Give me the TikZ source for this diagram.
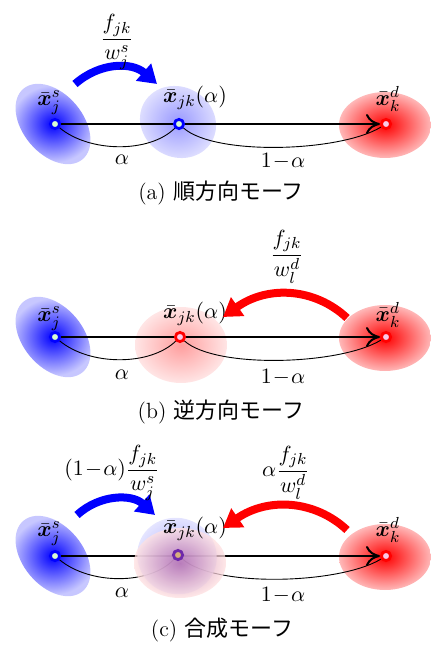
\documentclass[tikz,border=0pt]{standalone}
\usepackage{amsmath,amssymb,bm}
\usepackage{fontspec}
\newfontfamily\jpfont{Noto Sans CJK JP}
\usetikzlibrary{arrows.meta}
\definecolor{ptgreen}{RGB}{215,250,210}
\definecolor{ptpink}{RGB}{250,200,230}
\definecolor{pttan}{RGB}{215,175,125}
\definecolor{ptviolet}{RGB}{110,40,170}
\definecolor{mixcore}{RGB}{185,105,165}
\pgfdeclarelayer{background}
\pgfdeclarelayer{veil}
\pgfsetlayers{background,veil,main}
\tikzset{
    point/.style={circle, draw, line width=1.4pt, inner sep=0pt, minimum size=4.6pt},
    srcpt/.style={point, draw=blue, fill=ptgreen},
    dstpt/.style={point, draw=red, fill=ptpink},
    mixpt/.style={point, draw=ptviolet, fill=pttan},
    lab/.style={inner sep=1pt},
    mainline/.style={line width=1pt, -{To[length=7pt,width=10pt]}},
    ratio/.style={line width=0.45pt},
    bluearrow/.style={line width=4pt, blue, -{Triangle[length=9pt,width=11pt]}},
    redarrow/.style={line width=4pt, red, -{Triangle[length=9pt,width=11pt]}},
    srcblob/.style={inner color=blue, outer color=blue!22},
    dstblob/.style={inner color=red, outer color=red!28},
    midblue/.style={inner color=blue!40, outer color=blue!10},
    midred/.style={inner color=red!38, outer color=red!10},
    mixred/.style={inner color=mixcore, outer color=red!12}
}
\newcommand{\oneminus}{1\!-\!\alpha}

\begin{document}
\begin{tikzpicture}[x=0.5pt, y=-0.5pt, font=\fontsize{11}{13}\selectfont]
\useasboundingbox (0,0) rectangle (431,646);

% (a) forward morph
\node[srcpt] (srcA) at (55,124) {};
\node[srcpt] (midA) at (179,124) {};
\node[dstpt] (dstA) at (386,124) {};
\begin{pgfonlayer}{background}
    \shade[srcblob, rotate around={-50:(53,124)}] (53,124) ellipse [x radius=46, y radius=30];
    \shade[midblue, rotate around={-30:(178,122)}] (178,122) ellipse [x radius=39, y radius=35];
    \shade[dstblob] (385,125) ellipse [x radius=46, y radius=33];
    \draw[mainline] (srcA) -- (dstA);
    \draw[ratio] (srcA) .. controls (90,153) and (150,153) .. (midA);
    \draw[ratio] (midA) .. controls (215,156) and (340,152) .. (dstA);
\end{pgfonlayer}
\node[lab] (xsA) at (49,103) {$\bar{\bm{x}}_j^{s}$};
\node[lab] (xmA) at (195,98) {$\bar{\bm{x}}_{jk}(\alpha)$};
\node[lab] (xdA) at (388,99) {$\bar{\bm{x}}_k^{d}$};
\node[lab] (alA) at (122,160) {$\alpha$};
\node[lab] (omA) at (283,161) {$\oneminus$};
\coordinate (bsA) at (75,84);
\coordinate (beA) at (157,84);
\draw[bluearrow] (bsA) .. controls (100,62) and (132,62) .. (beA);
\node[lab] (frA) at (117,42) {$\dfrac{f_{jk}}{w_j^{s}}$};
\node (capA) at (221,193) {(a) {\jpfont 順方向モーフ}};

% (b) backward morph
\node[srcpt] (srcB) at (55,337) {};
\node[dstpt] (midB) at (180,337) {};
\node[dstpt] (dstB) at (386,337) {};
\begin{pgfonlayer}{background}
    \shade[srcblob, rotate around={-50:(53,337)}] (53,337) ellipse [x radius=46, y radius=30];
    \shade[midred] (181,345) ellipse [x radius=46, y radius=38];
    \shade[dstblob] (385,338) ellipse [x radius=46, y radius=33];
    \draw[mainline] (srcB) -- (dstB);
    \draw[ratio] (srcB) .. controls (90,366) and (150,366) .. (midB);
    \draw[ratio] (midB) .. controls (216,369) and (340,365) .. (dstB);
\end{pgfonlayer}
\node[lab] (xsB) at (49,319) {$\bar{\bm{x}}_j^{s}$};
\node[lab] (xmB) at (195,314) {$\bar{\bm{x}}_{jk}(\alpha)$};
\node[lab] (xdB) at (388,315) {$\bar{\bm{x}}_k^{d}$};
\node[lab] (alB) at (122,375) {$\alpha$};
\node[lab] (omB) at (283,377) {$\oneminus$};
\coordinate (rsB) at (347,318);
\coordinate (reB) at (223,317);
\draw[redarrow] (rsB) .. controls (315,288) and (268,285) .. (reB);
\node[lab] (frB) at (287,257) {$\dfrac{f_{jk}}{w_l^{d}}$};
\node (capB) at (221,412) {(b) {\jpfont 逆方向モーフ}};

% (c) combined morph
\node[srcpt] (srcC) at (55,556) {};
\node[mixpt] (midC) at (178,555) {};
\node[dstpt] (dstC) at (386,556) {};
\begin{pgfonlayer}{background}
    \shade[srcblob, rotate around={-50:(53,556)}] (53,556) ellipse [x radius=46, y radius=30];
    \shade[dstblob] (385,557) ellipse [x radius=46, y radius=33];
    \draw[mainline] (srcC) -- (dstC);
    \draw[ratio] (srcC) .. controls (90,585) and (150,585) .. (midC);
    \draw[ratio] (midC) .. controls (215,588) and (340,584) .. (dstC);
\end{pgfonlayer}
\begin{pgfonlayer}{veil}
    \shade[midblue, opacity=0.8, rotate around={-20:(177,556)}] (177,556) ellipse [x radius=40, y radius=38];
    \shade[mixred, opacity=0.75] (180,563) ellipse [x radius=46, y radius=35];
\end{pgfonlayer}
\node[lab] (xsC) at (49,534) {$\bar{\bm{x}}_j^{s}$};
\node[lab] (xmC) at (195,529) {$\bar{\bm{x}}_{jk}(\alpha)$};
\node[lab] (xdC) at (388,530) {$\bar{\bm{x}}_k^{d}$};
\node[lab] (alC) at (122,593) {$\alpha$};
\node[lab] (omC) at (283,595) {$\oneminus$};
\coordinate (bsC) at (77,515);
\coordinate (beC) at (155,515);
\draw[bluearrow] (bsC) .. controls (100,494) and (132,494) .. (beC);
\coordinate (rsC) at (347,530);
\coordinate (reC) at (223,528);
\draw[redarrow] (rsC) .. controls (315,500) and (268,497) .. (reC);
\node[lab] (frC) at (112,473) {$(\oneminus)\dfrac{f_{jk}}{w_j^{s}}$};
\node[lab] (fdC) at (286,473) {$\alpha\dfrac{f_{jk}}{w_l^{d}}$};
\node (capC) at (222,630) {(c) {\jpfont 合成モーフ}};

\end{tikzpicture}
\end{document}
